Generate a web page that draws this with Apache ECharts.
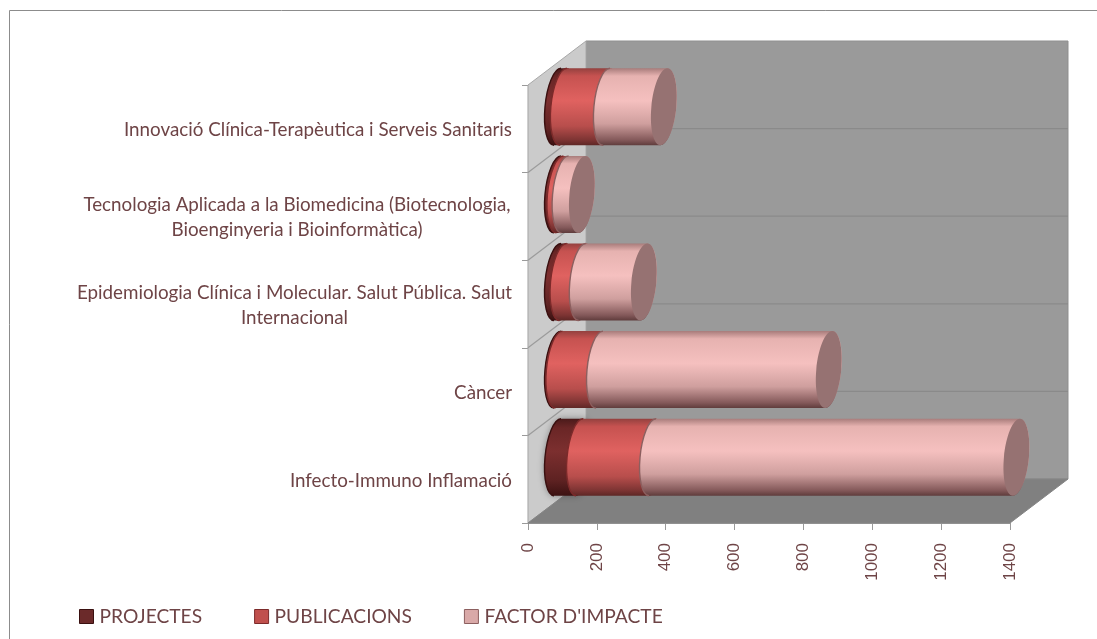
<!DOCTYPE html>
<html><head><meta charset="utf-8">
<style>html,body{margin:0;padding:0;background:#fff}#c{width:1097px;height:639px}</style>
<script src="https://cdn.jsdelivr.net/npm/echarts@6/dist/echarts.min.js"></script>
</head><body><div id="c"></div>
<script>
const categories = ["Infecto-Immuno Inflamació","Càncer","Epidemiologia Clínica i Molecular. Salut Pública. Salut\nInternacional","Tecnologia Aplicada a la Biomedicina (Biotecnologia,\nBioenginyeria i Bioinformàtica)","Innovació Clínica-Terapèutica i Serveis Sanitaris"];
const projectes = [64, 4, 16, 7, 17];
const publicacions = [212, 118, 56, 15, 125];
const factorImpacte = [1057, 666, 179, 49, 167];
const seriesNames = ["PROJECTES","PUBLICACIONS","FACTOR D'IMPACTE"];
const axisMax = 1400, axisStep = 200;

const DX = 58, DY = -44, RX = 12.5, SKEW = 3.5, RY = 38.5;
const TXT = '#6e4446';
const G = (stops) => new echarts.graphic.LinearGradient(0,0,0,1,stops.map(s=>({offset:s[0],color:s[1]})));
const looks = [
  {rim:'#3a1010', cap:'#5a2222', body:[[0,'#4a1a1a'],[.12,'#6a2626'],[.42,'#7c2f2f'],[.8,'#5e2222'],[1,'#3c1212']], key:'#6b2a2a'},
  {rim:'#7c2a2a', cap:'#a05050', body:[[0,'#94413f'],[.1,'#c65250'],[.42,'#e06260'],[.75,'#b84e4c'],[.93,'#7d3433'],[1,'#5e2725']], key:'#c0504d'},
  {rim:'#8c5f5f', cap:'#967272', body:[[0,'#a87c7b'],[.1,'#e6b2b0'],[.42,'#f5c0bf'],[.72,'#cf9f9e'],[.93,'#84595a'],[1,'#5f3c3c']], key:'#d9a9a8'}
];
const cumulative = categories.map((_,i)=>[0,projectes[i],projectes[i]+publicacions[i],projectes[i]+publicacions[i]+factorImpacte[i]]);
const rows = s => categories.map((_,i)=>[cumulative[i][s],cumulative[i][s+1],i]);

function cylinder(s){
  return function(params, api){
    const i = api.value(2);
    const a = api.coord([api.value(0), i]), b = api.coord([api.value(1), i]);
    const x0 = a[0]+DX/2+0.5, x1 = b[0]+DX/2+0.5, cy = a[1]+DY/2;
    const K = .5523;
    const pt = (cx,u,v)=>[(cx+RX*u+SKEW*v).toFixed(2),(cy-RY*v).toFixed(2)].join(' ');
    const rightHalf = cx=>`C${pt(cx,K,1)} ${pt(cx,1,K)} ${pt(cx,1,0)} C${pt(cx,1,-K)} ${pt(cx,K,-1)} ${pt(cx,0,-1)}`;
    const leftHalfUp = cx=>`C${pt(cx,-K,-1)} ${pt(cx,-1,-K)} ${pt(cx,-1,0)} C${pt(cx,-1,K)} ${pt(cx,-K,1)} ${pt(cx,0,1)}`;
    const body = `M${pt(x0,0,1)} L${pt(x1,0,1)} ${rightHalf(x1)} L${pt(x0,0,-1)} ${leftHalfUp(x0)} Z`;
    const arc = `M${pt(x0,0,-1)} ${leftHalfUp(x0)}`;
    const cap = `M${pt(x1,0,1)} ${rightHalf(x1)} ${leftHalfUp(x1)} Z`;
    const lk = looks[s];
    const kids = [
      {type:'path',shape:{pathData:body},style:Object.assign({fill:G(lk.body),stroke:null},
        (s===0&&i===0)?{shadowBlur:7,shadowColor:'rgba(60,60,60,.55)'}:{})},
      {type:'path',shape:{pathData:arc},style:{fill:null,stroke:lk.rim,lineWidth:1.4}},
      {type:'path',shape:{pathData:cap},style:{fill:lk.cap,stroke:null}}
    ];
    return {type:'group',children:kids};
  };
}

function walls(params, api){
  const r = params.coordSys;
  const L=r.x, R=r.x+r.width, T=r.y, B=r.y+r.height;
  const n = categories.length, line={stroke:'#8a8a8a',lineWidth:1.2};
  const kids = [
    {type:'polygon',shape:{points:[[L+DX,T+DY],[R+DX,T+DY],[R+DX,B+DY],[L+DX,B+DY]]},style:{fill:'#9a9a9a',stroke:'#8f8f8f',lineWidth:1}},
    {type:'polygon',shape:{points:[[L,T],[L+DX,T+DY],[L+DX,B+DY],[L,B]]},style:{fill:'#cbcbcb',stroke:'#a8a8a8',lineWidth:1}},
    {type:'polygon',shape:{points:[[L,B],[R,B],[R+DX,B+DY],[L+DX,B+DY]]},style:{fill:'#808080',stroke:'#858585',lineWidth:1}}
  ];
  for(let k=1;k<n;k++){
    const y=T+k*r.height/n;
    kids.push({type:'line',shape:{x1:L,y1:y,x2:L+DX,y2:y+DY},style:{stroke:'#9b9b9b',lineWidth:1.2}});
    kids.push({type:'line',shape:{x1:L+DX,y1:y+DY,x2:R+DX,y2:y+DY},style:line});
  }
  return {type:'group',children:kids};
}

const chart = echarts.init(document.getElementById('c'),null,{renderer:'canvas'});
const labelFmt = v=>{
  const parts=v.split('\n');
  if(parts.length===1) return v;
  const w = parts[0].startsWith('Epid')?'e':'t';
  return parts.map(p=>`{${w}|${p}}`).join('\n');
};
const rich = {
  e:{width:435,align:'center',fontFamily:'Lato',fontSize:18.8,color:TXT,lineHeight:25},
  t:{width:430,align:'center',fontFamily:'Lato',fontSize:18.8,color:TXT,lineHeight:25}
};
chart.setOption({
  animation:false,
  backgroundColor:'#fff',
  graphic:[
    {type:'line',shape:{x1:9.5,y1:10.5,x2:1097,y2:10.5},style:{stroke:'#8c8c8c',lineWidth:1},silent:true},
    {type:'line',shape:{x1:9.5,y1:10.5,x2:9.5,y2:639},style:{stroke:'#8c8c8c',lineWidth:1},silent:true}
  ],
  grid:{left:528,top:85,width:482,height:438,containLabel:false},
  xAxis:{type:'value',min:0,max:axisMax,interval:axisStep,
    axisLine:{show:true,lineStyle:{color:'#9a9a9a',width:1.2}},
    axisTick:{show:true,length:7,lineStyle:{color:'#9a9a9a'}},
    splitLine:{show:false},
    axisLabel:{rotate:90,margin:20,color:TXT,fontFamily:'Liberation Sans',fontSize:17,hideOverlap:false,formatter:v=>String(v)}},
  yAxis:{type:'category',data:categories,
    axisLine:{show:true,onZero:false,lineStyle:{color:'#9a9a9a',width:1.2}},
    axisTick:{show:true,length:6,lineStyle:{color:'#9a9a9a'}},
    splitLine:{show:false},
    axisLabel:{margin:16,color:TXT,fontFamily:'Lato',fontSize:18.8,lineHeight:25,padding:[3,0,0,0],align:'right',interval:0,formatter:labelFmt,rich:rich}},
  legend:{left:79,top:607,itemWidth:14,itemHeight:14,itemGap:52,padding:0,
    textStyle:{color:TXT,fontFamily:'Lato',fontSize:19.2,padding:[0,0,0,1]},selectedMode:false,
    data:seriesNames.map((n,s)=>({name:n,icon:'rect',itemStyle:{color:looks[s].key,borderColor:looks[s].rim,borderWidth:1}}))},
  series:[
    {type:'custom',name:'walls',renderItem:walls,data:[[0,0,0]],encode:{x:0,y:2},silent:true,z:1,tooltip:{show:false}},
    ...[0,1,2].map(s=>({type:'custom',name:seriesNames[s],renderItem:cylinder(s),data:rows(s),
      dimensions:['start','end','cat'],encode:{x:[0,1],y:2},itemStyle:{color:looks[s].key},z:2+s,clip:false}))
  ]
});
</script></body></html>
